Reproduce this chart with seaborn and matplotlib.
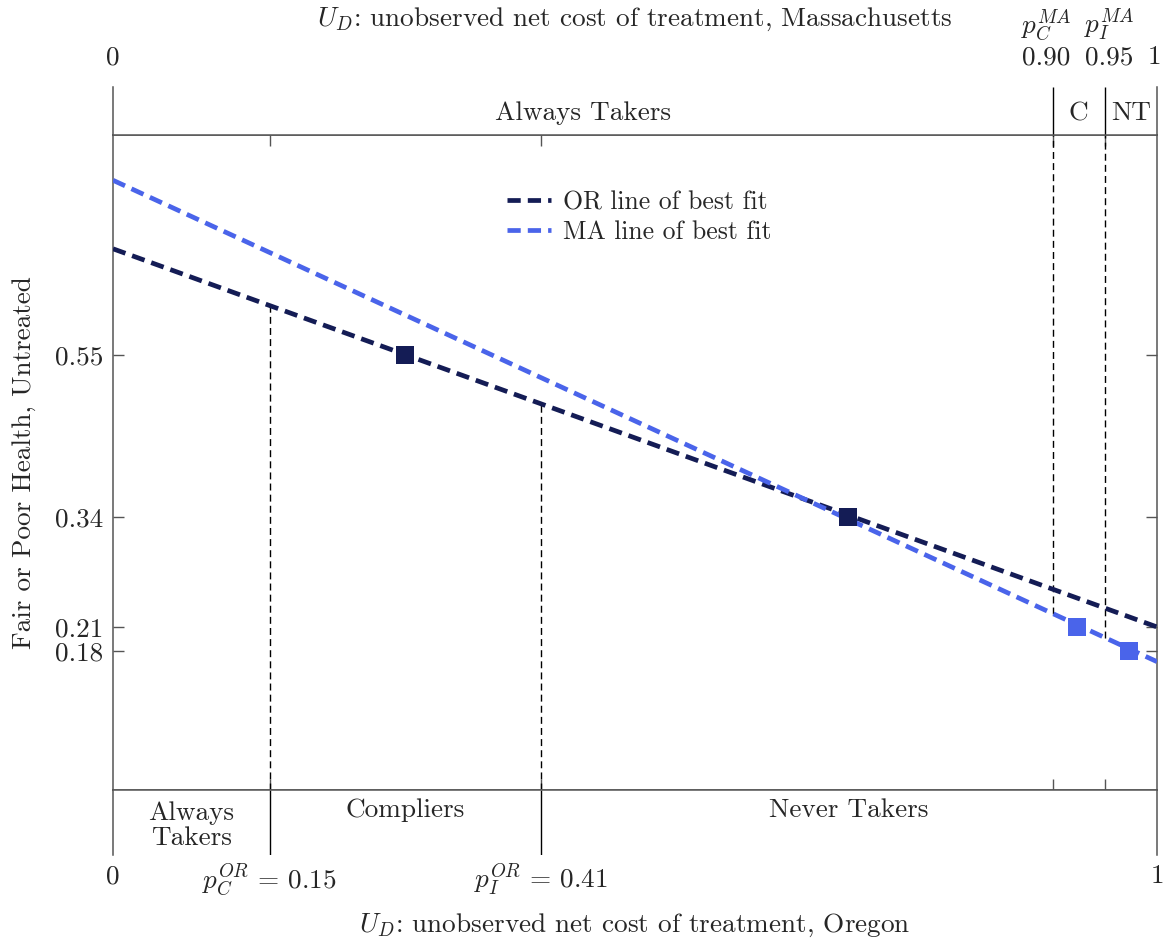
import numpy as np
import pandas as pd
import seaborn as sns
import matplotlib
matplotlib.use("Agg")
import matplotlib.pyplot as plt

# ---------------- data ----------------
or_points_x = [0.28, 0.704]
or_points_y = [0.5315, 0.34]
ma_points_x = [0.923, 0.973]
ma_points_y = [0.21, 0.182]
or_fit_x = [0.0, 1.0]
or_fit_y = [0.657, 0.21]
ma_fit_x = [0.0, 1.0]
ma_fit_y = [0.738, 0.169]
ytick_vals = [0.5315, 0.34, 0.21, 0.182]
ytick_labels = ["0.55", "0.34", "0.21", "0.18"]
p_or = [0.15, 0.41]
p_ma = [0.90, 0.95]
p_or_labels = [r"$p_C^{OR} \,=\, 0.15$", r"$p_I^{OR} \,=\, 0.41$"]
p_ma_tops = [r"$p_C^{MA}$", r"$p_I^{MA}$"]
p_ma_labels = ["0.90", "0.95"]
or_band_labels = ["Always\nTakers", "Compliers", "Never Takers"]
ma_band_labels = ["Always Takers", "C", "NT"]

OR_COL = "#141c55"
MA_COL = "#4a64ea"
SPINE = "#555555"

sns.set_style("white")
plt.rcParams["font.family"] = ["cmr10", "DejaVu Serif"]
plt.rcParams["mathtext.fontset"] = "cm"
plt.rcParams["axes.unicode_minus"] = False
plt.rcParams["axes.formatter.use_mathtext"] = True
FS = 19.6

fig = plt.figure(figsize=(11.67, 9.44), dpi=100)
W, H = 1167, 944
left = 113 / W
width = (1157 - 113) / W
ax = fig.add_axes([left, 1 - 790 / H, width, (790 - 135) / H])
ax_top = fig.add_axes([left, 1 - 135 / H, width, (135 - 87) / H])
ax_bot = fig.add_axes([left, 1 - 855 / H, width, (855 - 790) / H])

ylo, yhi = 0.0173, 0.7915
DASH = (0, (2.8, 1.5))

# main lines
sns.lineplot(x=or_fit_x, y=or_fit_y, ax=ax, color=OR_COL, linewidth=3.4,
             linestyle=DASH, label="OR line of best fit", zorder=3)
sns.lineplot(x=ma_fit_x, y=ma_fit_y, ax=ax, color=MA_COL, linewidth=3.4,
             linestyle=DASH, label="MA line of best fit", zorder=3)
sns.scatterplot(x=or_points_x, y=or_points_y, ax=ax, marker="s", s=170,
                color=OR_COL, edgecolor="none", zorder=4, legend=False)
sns.scatterplot(x=ma_points_x, y=ma_points_y, ax=ax, marker="s", s=170,
                color=MA_COL, edgecolor="none", zorder=4, legend=False)

# thin dashed vertical guides
or_at = np.interp(p_or, or_fit_x, or_fit_y)
ma_at = np.interp(p_ma, ma_fit_x, ma_fit_y)
ax.vlines(p_or, ylo, or_at, colors="black", linewidth=1.0,
          linestyles=(0, (5, 3)), zorder=2)
ax.vlines(p_ma, ma_at, yhi, colors="black", linewidth=1.0,
          linestyles=(0, (5, 3)), zorder=2)

ax.set_xlim(0, 1)
ax.set_ylim(ylo, yhi)
ax.set_yticks(ytick_vals)
ax.set_yticklabels(ytick_labels, fontsize=FS)
ax.set_xticks(p_or + p_ma)
ax.set_xticklabels([])
ax.tick_params(axis="both", direction="in", length=8, width=1.0, color=SPINE,
               top=True, bottom=True, left=True, right=True, pad=7)
for s in ax.spines.values():
    s.set_color(SPINE)
    s.set_linewidth(1.1)
ax.set_ylabel("Fair or Poor Health, Untreated", fontsize=FS)
ax.yaxis.set_label_coords(-0.074, 0.5)
ax.set_xlabel("")

ax.legend(loc="upper left", bbox_to_anchor=(0.365, 0.935), frameon=False,
          fontsize=18.5, handlelength=1.7, handletextpad=0.5, labelspacing=0.22,
          borderpad=0)

# top band (Massachusetts)
ax_top.set_xlim(0, 1)
ax_top.set_ylim(0, 1)
ax_top.set_xticks([]); ax_top.set_yticks([])
ax_top.spines["top"].set_visible(False)
for k in ["left", "right", "bottom"]:
    ax_top.spines[k].set_color(SPINE)
    ax_top.spines[k].set_linewidth(1.1)
ax_top.vlines(p_ma, 0, 1, colors="black", linewidth=1.0)
ma_edges = [0.0] + p_ma + [1.0]
for i, lab in enumerate(ma_band_labels):
    ax_top.text((ma_edges[i] + ma_edges[i + 1]) / 2, 0.45, lab, ha="center",
                va="center", fontsize=FS)
ax_top.text(0, 1.62, "0", ha="center", va="center", fontsize=FS)
ax_top.annotate("1", (1, 1.62), xytext=(-2, 0), textcoords="offset points",
                ha="center", va="center", fontsize=FS, annotation_clip=False)
shifts = [-4.5, 3.0]
for xv, lab, top, dx in zip(p_ma, p_ma_labels, p_ma_tops, shifts):
    ax_top.annotate(lab, (xv, 1.62), xytext=(dx, 0), textcoords="offset points",
                    ha="center", va="center", fontsize=FS, annotation_clip=False)
    ax_top.annotate(top, (xv, 2.3), xytext=(dx, 0), textcoords="offset points",
                    ha="center", va="center", fontsize=FS, annotation_clip=False)
ax_top.text(0.5, 2.42, r"$U_D$: unobserved net cost of treatment, Massachusetts",
            ha="center", va="center", fontsize=FS)

# bottom band (Oregon)
ax_bot.set_xlim(0, 1)
ax_bot.set_ylim(0, 1)
ax_bot.set_xticks([]); ax_bot.set_yticks([])
ax_bot.spines["bottom"].set_visible(False)
for k in ["left", "right", "top"]:
    ax_bot.spines[k].set_color(SPINE)
    ax_bot.spines[k].set_linewidth(1.1)
ax_bot.vlines(p_or, 0, 1, colors="black", linewidth=1.0)
or_edges = [0.0] + p_or + [1.0]
or_band_y = [0.45, 0.69, 0.69]
for i, lab in enumerate(or_band_labels):
    ax_bot.text((or_edges[i] + or_edges[i + 1]) / 2, or_band_y[i], lab,
                ha="center", va="center", fontsize=FS, linespacing=1.1)
ax_bot.text(0, -0.33, "0", ha="center", va="center", fontsize=FS)
ax_bot.text(1, -0.33, "1", ha="center", va="center", fontsize=FS)
for xv, lab in zip(p_or, p_or_labels):
    ax_bot.text(xv, -0.38, lab, ha="center", va="center", fontsize=FS)
ax_bot.text(0.5, -1.08, r"$U_D$: unobserved net cost of treatment, Oregon",
            ha="center", va="center", fontsize=FS)

fig.savefig("out.png", dpi=100)
